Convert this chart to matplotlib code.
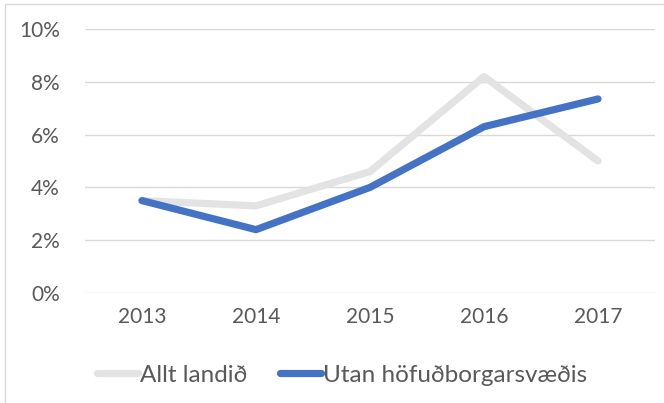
import matplotlib
matplotlib.use("Agg")
import matplotlib.pyplot as plt
from matplotlib.patches import Rectangle

years = ["2013", "2014", "2015", "2016", "2017"]
allt_landid = [0.035, 0.033, 0.046, 0.082, 0.050]
utan_hofudborgarsvaedis = [0.035, 0.024, 0.040, 0.063, 0.0735]
series_names = ["Allt landið", "Utan höfuðborgarsvæðis"]
y_ticks = [0.0, 0.02, 0.04, 0.06, 0.08, 0.10]
y_tick_labels = ["0%", "2%", "4%", "6%", "8%", "10%"]

plt.rcParams['font.family'] = ['Lato', 'DejaVu Sans']
W, H = 664, 403
fig = plt.figure(figsize=(W / 100, H / 100), dpi=100)
fig.patch.set_facecolor("white")

# chart border
fig.add_artist(Rectangle((5 / W, -0.05), 1.1, 1 - 4 / H + 0.05, transform=fig.transFigure,
                         fill=False, edgecolor="#d9d9d9", linewidth=1.0))

ax = fig.add_axes([85 / W, 1 - 293 / H, (655 - 85) / W, (293 - 29) / H])
x = range(len(years))
ax.plot(x, allt_landid, color="#e3e3e3", linewidth=5.2, solid_capstyle="round",
        solid_joinstyle="round", label=series_names[0], zorder=3)
ax.plot(x, utan_hofudborgarsvaedis, color="#4472c4", linewidth=5.2, solid_capstyle="round",
        solid_joinstyle="round", label=series_names[1], zorder=4)

ax.set_xlim(-0.5, len(years) - 0.5)
ax.set_ylim(0, 0.10)
ax.set_yticks(y_ticks)
ax.set_yticklabels(y_tick_labels)
ax.set_xticks(list(x))
ax.set_xticklabels(years)
ax.tick_params(axis="both", length=0, labelsize=15, labelcolor="#595959")
ax.tick_params(axis="y", pad=18)
ax.tick_params(axis="x", pad=10)
ax.grid(axis="y", color="#d9d9d9", linewidth=1.0)
ax.set_axisbelow(True)
for s in ax.spines.values():
    s.set_visible(False)

leg = fig.legend(loc="center", bbox_to_anchor=(342 / W, 1 - 375 / H), ncol=2, frameon=False,
                 fontsize=17.5, handlelength=1.7, handletextpad=0.08, columnspacing=1.35,
                 borderpad=0, borderaxespad=0)
for t in leg.get_texts():
    t.set_color("#595959")

fig.savefig("out.png", dpi=100, facecolor="white")
